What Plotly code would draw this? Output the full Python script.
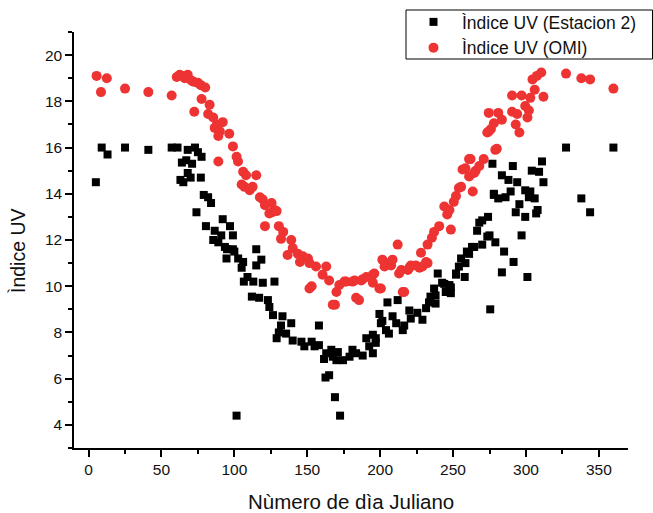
import plotly.graph_objects as go

# Índice UV (Estacion 2) - black squares
est_days = [5, 9, 13, 25, 41, 57, 61, 64, 67, 68, 71, 73, 75, 77.5, 63, 65, 68, 70, 77, 74,
            79, 82, 84, 80.5, 86.5, 85.5, 89, 92, 97, 91, 99, 93.5, 95, 99, 100, 115, 94.6,
            102.6, 118.5, 106, 105, 115, 109, 106.5, 113, 127.5, 119.5, 101.5, 112, 117, 123,
            124, 126.5, 133, 132, 139, 130.5, 135.5, 129, 140, 146, 153, 148, 155, 158, 158,
            163, 161.5, 162.5, 165, 166.5, 167.5, 170, 169, 172.5, 171, 174.5, 179, 181, 183.5,
            188, 190.5, 192.5, 195, 195, 197, 197, 199.5, 200.5, 201.5, 204, 205, 206, 208.5,
            211, 212, 215.5, 216.5, 220, 221, 225.5, 229, 231.5, 233.5, 234.5, 237, 238, 238,
            239.5, 242.5, 244, 245, 247.5, 248.5, 248.5, 252, 252, 254, 255.5, 258.5, 258,
            259.5, 261, 263, 264.5, 266.5, 268, 270, 270, 274, 273.5, 275, 275.5, 277, 278,
            278, 279, 281, 283.5, 283.5, 285, 286, 288, 289.5, 291, 291.5, 293, 294, 295.5,
            297, 299.5, 299.5, 301, 302, 303, 304, 306, 307, 308, 309, 311, 312, 327.5, 338,
            344, 360]
est_vals = [14.5, 16.0, 15.7, 16.0, 15.9, 16.0, 16.0, 15.35, 15.45, 15.9, 15.3, 16.0, 15.8, 15.6,
            14.6, 14.5, 14.9, 14.7, 14.7, 13.2, 13.95, 13.85, 13.6, 12.6, 12.4, 12.0, 11.9, 12.9,
            12.6, 12.2, 12.2, 11.7, 11.6, 11.6, 11.5, 11.6, 11.2, 11.2, 11.15, 11.05, 10.8, 10.9,
            10.4, 10.2, 10.2, 10.2, 10.15, 4.4, 9.55, 9.5, 9.4, 9.1, 8.75, 8.7, 8.3, 8.4, 8.0,
            7.95, 7.75, 7.65, 7.6, 7.6, 7.4, 7.4, 7.45, 8.3, 7.1, 6.85, 6.05, 6.15, 7.25, 6.95,
            6.8, 5.2, 4.4, 7.15, 6.8, 6.95, 7.25, 7.1, 7.0, 7.75, 7.4, 7.1, 7.9, 7.55, 7.75, 8.8,
            8.4, 8.5, 8.1, 9.3, 7.95, 8.7, 8.4, 9.4, 8.1, 8.3, 8.95, 8.6, 8.85, 8.55, 9.05, 9.3,
            9.55, 9.9, 9.6, 9.25, 10.55, 10.15, 10.1, 9.75, 10.05, 9.7, 9.95, 10.55, 10.5, 10.85,
            11.2, 11.0, 10.4, 11.5, 11.4, 11.7, 11.7, 12.4, 12.75, 12.85, 11.8, 13.0, 12.15, 12.2,
            9.0, 15.3, 13.95, 14.0, 11.9, 13.8, 10.6, 14.8, 11.5, 13.85, 14.6, 14.1, 15.2, 11.05,
            13.2, 14.5, 13.55, 12.2, 14.15, 13.0, 10.4, 13.85, 14.1, 15.0, 13.8, 13.15, 13.3,
            14.95, 15.4, 14.5, 16.0, 13.8, 13.2, 16.0]

# Índice UV (OMI) - red circles
omi_days = [5.5, 8.5, 12.5, 25, 41, 57, 60.5, 62.5, 64.5, 66, 68, 70.5, 72, 75, 77, 80, 77.5, 83,
            72.5, 82, 85.5, 88, 92, 86.5, 90, 96.5, 89, 99, 101.5, 102.5, 89, 106, 108, 115, 105,
            107, 110.5, 112.5, 117.5, 119.5, 121, 125.5, 127.5, 124, 126, 129, 121, 130.5, 133.5,
            132, 139, 140, 136.5, 143.5, 147, 150.5, 145, 151.5, 156, 163, 160.5, 165, 153, 151.5,
            170, 169, 167.5, 172, 175.5, 176.5, 181, 182.5, 183.5, 185.5, 187, 188, 190.5, 195,
            195, 196, 199.5, 200.5, 201.5, 203, 206.5, 207.5, 208.5, 212, 213, 214.5, 215.5,
            216.5, 219, 220, 221, 224.5, 227, 228, 229, 231.5, 232.5, 232.5, 235.5, 237, 240.5,
            244, 246, 247.5, 248.5, 250.5, 252, 254, 255.5, 256.5, 258.5, 261, 261, 262, 263.5,
            264.5, 265.5, 268, 271, 273.5, 274.5, 276, 278, 279, 280, 281, 283.5, 274.5, 290.5,
            290.5, 293, 294, 295.5, 297, 299.5, 301, 302, 303, 304.5, 306, 307.5, 310.5, 312,
            327.5, 338, 344, 360]
omi_vals = [19.1, 18.4, 19.0, 18.55, 18.4, 18.25, 19.05, 19.15, 19.1, 19.0, 19.15, 18.9, 18.85,
            18.8, 18.7, 18.6, 18.1, 17.85, 17.55, 17.45, 17.3, 17.0, 17.1, 16.85, 16.7, 16.6,
            16.5, 16.05, 15.6, 15.4, 15.4, 14.95, 14.8, 14.8, 14.4, 14.3, 14.15, 14.3, 13.85,
            13.75, 13.5, 13.6, 13.3, 13.15, 13.2, 13.25, 12.6, 12.6, 12.35, 12.05, 12.0, 11.65,
            11.35, 11.4, 11.3, 11.2, 11.05, 11.0, 10.85, 10.85, 10.5, 10.25, 10.0, 9.9, 9.75, 9.2,
            9.2, 10.05, 10.2, 10.2, 10.2, 10.25, 9.5, 9.4, 10.25, 10.3, 10.4, 10.5, 10.15, 10.55,
            9.9, 9.9, 11.15, 10.85, 11.0, 10.9, 11.15, 11.8, 10.55, 10.7, 9.75, 9.75, 10.7, 10.8,
            10.9, 10.9, 10.8, 11.45, 10.85, 11.05, 11.0, 11.8, 12.1, 12.35, 12.6, 13.45, 13.1,
            13.3, 12.45, 13.65, 13.9, 14.25, 14.3, 15.05, 15.1, 14.75, 15.5, 15.5, 14.1, 14.9,
            15.0, 15.2, 15.5, 16.65, 16.7, 16.8, 17.05, 15.9, 15.95, 17.5, 17.2, 17.5, 17.55,
            18.25, 17.0, 17.45, 16.65, 18.25, 17.8, 17.3, 17.6, 18.15, 18.95, 18.5, 19.1, 19.25,
            18.2, 19.2, 19.0, 18.95, 18.55]

x_ticks = [0, 50, 100, 150, 200, 250, 300, 350]
y_ticks = [4, 6, 8, 10, 12, 14, 16, 18, 20]

FONT = "Liberation Sans, Arial, sans-serif"

# plot-area geometry in pixels (used for paper-coordinate conversion)
W, H = 653, 513
L, R, T, B = 74, 25, 32, 65
PW, PH = W - L - R, H - T - B


def px(xp):
    return (xp - L) / PW


def py(yp):
    return (H - B - yp) / PH


fig = go.Figure()
fig.add_trace(go.Scatter(
    x=est_days, y=est_vals, mode="markers", name="Ìndice UV (Estacion 2)",
    marker=dict(symbol="square", size=8, color="#000000", line=dict(width=0)),
))
fig.add_trace(go.Scatter(
    x=omi_days, y=omi_vals, mode="markers", name="Ìndice UV (OMI)",
    marker=dict(symbol="circle", size=10, color="#EE3333", line=dict(width=0)),
))

axis_common = dict(
    showgrid=False, zeroline=False, showline=True, linecolor="#000", linewidth=1.5,
    ticks="outside", ticklen=7, tickwidth=1.5, tickcolor="#000",
    tickfont=dict(family=FONT, size=15.5, color="#111"),
)
fig.update_xaxes(range=[-10, 370], tickvals=x_ticks, ticktext=[str(v) for v in x_ticks],
                 minor=dict(dtick=25, tick0=0, ticks="outside", ticklen=4, tickwidth=1.5, tickcolor="#000"),
                 **axis_common)
fig.update_yaxes(range=[3, 21], tickvals=y_ticks, ticktext=[str(v) for v in y_ticks],
                 minor=dict(dtick=1, tick0=0, ticks="outside", ticklen=4, tickwidth=1.5, tickcolor="#000"),
                 **axis_common)

# axis titles
fig.add_annotation(text="Nùmero de dìa Juliano", xref="paper", yref="paper",
                   x=0.5, y=py(501), xanchor="center", yanchor="middle",
                   showarrow=False, font=dict(family=FONT, size=20.5, color="#111"))
fig.add_annotation(text="Ìndice UV", xref="paper", yref="paper", textangle=-90,
                   x=px(18), y=py(251), xanchor="center", yanchor="middle",
                   showarrow=False, font=dict(family=FONT, size=19.5, color="#111"))

# legend frame
fig.add_shape(type="rect", xref="paper", yref="paper",
              x0=px(406), x1=px(652.5), y0=py(59), y1=py(10),
              line=dict(color="#000", width=1), fillcolor="white", layer="above")

fig.update_layout(
    width=W, height=H,
    margin=dict(l=L, r=R, t=T, b=B, autoexpand=False),
    plot_bgcolor="white", paper_bgcolor="white",
    showlegend=True,
    legend=dict(x=px(405), y=py(4), xanchor="left", yanchor="top",
                borderwidth=0, bgcolor="rgba(0,0,0,0)",
                font=dict(family=FONT, size=17.5, color="#111"),
                itemwidth=47, tracegroupgap=0),
)

fig.write_html("out.html")
